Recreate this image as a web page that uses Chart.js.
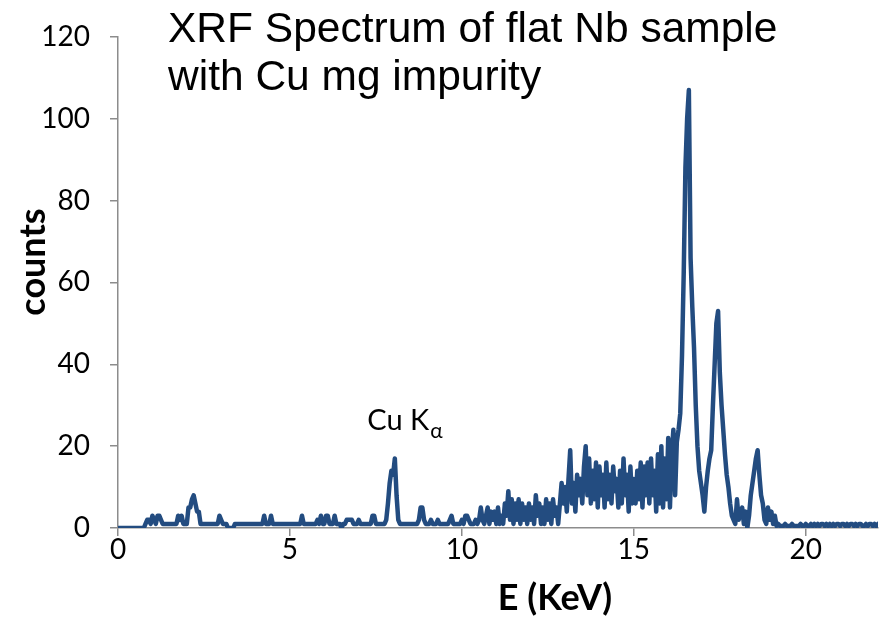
<!DOCTYPE html>
<html>
<head>
<meta charset="utf-8">
<script src="https://cdn.jsdelivr.net/npm/chart.js@4.4.1/dist/chart.umd.min.js"></script>
<style>
  html, body { margin: 0; padding: 0; background: #fff; }
  canvas { display: block; }
</style>
</head>
<body>
<canvas id="chart" width="884" height="617"></canvas>
<script>
// energy of each channel (keV)
const energyKeV = [
  0.00, 0.05, 0.10, 0.15, 0.20, 0.25, 0.30, 0.35, 0.40, 0.45, 0.50, 0.55, 0.60, 0.65, 0.70, 0.75, 0.80, 0.85, 0.90, 0.95,
  1.00, 1.05, 1.10, 1.15, 1.20, 1.25, 1.30, 1.35, 1.40, 1.45, 1.50, 1.55, 1.60, 1.65, 1.70, 1.75, 1.80, 1.85, 1.90, 1.95,
  2.00, 2.05, 2.10, 2.15, 2.20, 2.25, 2.30, 2.35, 2.40, 2.45, 2.50, 2.55, 2.60, 2.65, 2.70, 2.75, 2.80, 2.85, 2.90, 2.95,
  3.00, 3.05, 3.10, 3.15, 3.20, 3.25, 3.30, 3.35, 3.40, 3.45, 3.50, 3.55, 3.60, 3.65, 3.70, 3.75, 3.80, 3.85, 3.90, 3.95,
  4.00, 4.05, 4.10, 4.15, 4.20, 4.25, 4.30, 4.35, 4.40, 4.45, 4.50, 4.55, 4.60, 4.65, 4.70, 4.75, 4.80, 4.85, 4.90, 4.95,
  5.00, 5.05, 5.10, 5.15, 5.20, 5.25, 5.30, 5.35, 5.40, 5.45, 5.50, 5.55, 5.60, 5.65, 5.70, 5.75, 5.80, 5.85, 5.90, 5.95,
  6.00, 6.05, 6.10, 6.15, 6.20, 6.25, 6.30, 6.35, 6.40, 6.45, 6.50, 6.55, 6.60, 6.65, 6.70, 6.75, 6.80, 6.85, 6.90, 6.95,
  7.00, 7.05, 7.10, 7.15, 7.20, 7.25, 7.30, 7.35, 7.40, 7.45, 7.50, 7.55, 7.60, 7.65, 7.70, 7.75, 7.80, 7.85, 7.90, 7.95,
  8.00, 8.05, 8.10, 8.15, 8.20, 8.25, 8.30, 8.35, 8.40, 8.45, 8.50, 8.55, 8.60, 8.65, 8.70, 8.75, 8.80, 8.85, 8.90, 8.95,
  9.00, 9.05, 9.10, 9.15, 9.20, 9.25, 9.30, 9.35, 9.40, 9.45, 9.50, 9.55, 9.60, 9.65, 9.70, 9.75, 9.80, 9.85, 9.90, 9.95,
  10.00, 10.05, 10.10, 10.15, 10.20, 10.25, 10.30, 10.35, 10.40, 10.45, 10.50, 10.55, 10.60, 10.65, 10.70, 10.75, 10.80, 10.85, 10.90, 10.95,
  11.00, 11.05, 11.10, 11.15, 11.20, 11.25, 11.30, 11.35, 11.40, 11.45, 11.50, 11.55, 11.60, 11.65, 11.70, 11.75, 11.80, 11.85, 11.90, 11.95,
  12.00, 12.05, 12.10, 12.15, 12.20, 12.25, 12.30, 12.35, 12.40, 12.45, 12.50, 12.55, 12.60, 12.65, 12.70, 12.75, 12.80, 12.85, 12.90, 12.95,
  13.00, 13.05, 13.10, 13.15, 13.20, 13.25, 13.30, 13.35, 13.40, 13.45, 13.50, 13.55, 13.60, 13.65, 13.70, 13.75, 13.80, 13.85, 13.90, 13.95,
  14.00, 14.05, 14.10, 14.15, 14.20, 14.25, 14.30, 14.35, 14.40, 14.45, 14.50, 14.55, 14.60, 14.65, 14.70, 14.75, 14.80, 14.85, 14.90, 14.95,
  15.00, 15.05, 15.10, 15.15, 15.20, 15.25, 15.30, 15.35, 15.40, 15.45, 15.50, 15.55, 15.60, 15.65, 15.70, 15.75, 15.80, 15.85, 15.90, 15.95,
  16.00, 16.05, 16.10, 16.15, 16.20, 16.25, 16.30, 16.35, 16.40, 16.45, 16.50, 16.55, 16.60, 16.65, 16.70, 16.75, 16.80, 16.85, 16.90, 16.95,
  17.00, 17.05, 17.10, 17.15, 17.20, 17.25, 17.30, 17.35, 17.40, 17.45, 17.50, 17.55, 17.60, 17.65, 17.70, 17.75, 17.80, 17.85, 17.90, 17.95,
  18.00, 18.05, 18.10, 18.15, 18.20, 18.25, 18.30, 18.35, 18.40, 18.45, 18.50, 18.55, 18.60, 18.65, 18.70, 18.75, 18.80, 18.85, 18.90, 18.95,
  19.00, 19.05, 19.10, 19.15, 19.20, 19.25, 19.30, 19.35, 19.40, 19.45, 19.50, 19.55, 19.60, 19.65, 19.70, 19.75, 19.80, 19.85, 19.90, 19.95,
  20.00, 20.05, 20.10, 20.15, 20.20, 20.25, 20.30, 20.35, 20.40, 20.45, 20.50, 20.55, 20.60, 20.65, 20.70, 20.75, 20.80, 20.85, 20.90, 20.95,
  21.00, 21.05, 21.10, 21.15, 21.20, 21.25, 21.30, 21.35, 21.40, 21.45, 21.50, 21.55, 21.60, 21.65, 21.70, 21.75, 21.80, 21.85, 21.90, 21.95,
  22.00, 22.05, 22.10
];

// counts per channel
const counts = [
  0, 0, 0, 0, 0, 0, 0, 0, 0, 0, 0, 0, 0, 0, 0, 0, 1, 2, 2, 1,
  3, 2, 1, 3, 3, 2, 1, 1, 1, 1, 1, 1, 1, 1, 1, 3, 2, 3, 1, 1,
  1, 5, 5, 7, 8, 6, 4, 4, 1, 1, 1, 1, 1, 1, 1, 1, 1, 1, 1, 3,
  2, 1, 1, 1, 0, 0, 0, 0, 1, 1, 1, 1, 1, 1, 1, 1, 1, 1, 1, 1,
  1, 1, 1, 1, 1, 3, 1, 1, 1, 3, 1, 1, 1, 1, 1, 1, 1, 1, 1, 1,
  1, 1, 1, 1, 1, 1, 1, 3, 1, 1, 1, 1, 1, 1, 1, 1, 2, 1, 3, 1,
  1, 3, 3, 1, 1, 1, 3, 1, 1, 1, 0, 1, 1, 2, 2, 2, 2, 1, 1, 1,
  2, 1, 1, 1, 1, 1, 1, 1, 3, 3, 1, 1, 1, 1, 1, 1, 2, 6, 11, 14,
  13, 17, 8, 2, 1, 1, 1, 1, 1, 1, 1, 1, 1, 1, 1, 2, 5, 5, 2, 1,
  1, 1, 2, 1, 1, 1, 2, 1, 1, 1, 1, 1, 1, 2, 3, 1, 1, 1, 1, 1,
  2, 1, 3, 3, 2, 1, 1, 1, 2, 1, 2, 5, 2, 1, 3, 5, 1, 4, 2, 4,
  1, 5, 1, 3, 1, 6, 3, 9, 2, 7, 1, 6, 2, 7, 1, 6, 2, 5, 1, 6,
  2, 5, 1, 8, 3, 6, 1, 5, 1, 7, 2, 6, 1, 7, 3, 5, 1, 6, 11, 6,
  10, 4, 12, 19, 6, 11, 4, 13, 8, 12, 6, 15, 20, 8, 17, 6, 14, 7, 16, 5,
  15, 8, 13, 5, 16, 7, 13, 6, 15, 9, 12, 5, 14, 6, 17, 8, 13, 4, 15, 6,
  12, 6, 14, 7, 16, 5, 15, 8, 16, 6, 17, 8, 14, 4, 18, 6, 20, 5, 17, 7,
  22, 5, 18, 24, 8, 21, 24, 28, 42, 62, 88, 100, 107, 66, 54, 44, 30, 20, 14, 11,
  8, 4, 10, 14, 17, 19, 30, 40, 50, 53, 38, 30, 24, 18, 13, 10, 6, 3, 2, 1,
  7, 2, 4, 5, 1, 4, 0, 3, 8, 11, 14, 17, 19, 13, 8, 6, 2, 1, 5, 2,
  4, 1, 3, 0.5, 1, 0.5, 0.5, 0.5, 1, 0.5, 0.5, 0.5, 1, 0.5, 0.5, 0.5, 0.5, 1, 0.5, 0.5,
  1, 0.5, 0.5, 1, 0.5, 1, 0.5, 1, 0.5, 1, 1, 0.5, 1, 0.5, 1, 0.5, 1, 0.5, 1, 1,
  0.5, 1, 1, 0.5, 1, 0.5, 1, 1, 0.5, 1, 0.5, 1, 1, 0.5, 0.5, 1, 0.5, 1, 1, 0.5,
  1, 0.5, 1
];

const xTicks = [0, 5, 10, 15, 20];
const yTicks = [0, 20, 40, 60, 80, 100, 120];
const titleLines = ["XRF Spectrum of flat Nb sample", "with Cu mg impurity"];

const LINE_BLUE = "#234C80";
const AXIS_GREY = "#8C8C8C";

// titles and labels drawn straight onto the canvas
const textPlugin = {
  id: "texts",
  afterDraw(chart) {
    const ctx = chart.ctx;
    const xs = chart.scales.x;
    const ys = chart.scales.y;
    ctx.save();
    ctx.fillStyle = "#000";

    // chart title inside plot
    ctx.font = "42.5px 'Liberation Sans', Arial, sans-serif";
    ctx.textAlign = "left";
    ctx.textBaseline = "alphabetic";
    ctx.fillText(titleLines[0], 168, 42);
    ctx.fillText(titleLines[1], 168, 90);

    // Cu K alpha annotation
    const ax = xs.getPixelForValue(7.25);
    const ay = ys.getPixelForValue(24);
    ctx.font = "29px Lato, sans-serif";
    ctx.fillText("Cu K", ax, ay);
    const w = ctx.measureText("Cu K").width;
    ctx.font = "21px Lato, sans-serif";
    ctx.fillText("\u03B1", ax + w + 1, ay + 8);

    // axis titles
    ctx.font = "bold 36px Lato, sans-serif";
    ctx.textAlign = "center";
    ctx.textBaseline = "middle";
    ctx.fillText("E (KeV)", 555, 598);

    ctx.translate(33, 262);
    ctx.rotate(-Math.PI / 2);
    ctx.fillText("counts", 0, 0);
    ctx.restore();
  }
};

new Chart(document.getElementById("chart").getContext("2d"), {
  type: "line",
  data: {
    datasets: [{
      data: energyKeV.map((e, i) => ({ x: e, y: counts[i] })),
      borderColor: LINE_BLUE,
      borderWidth: 4.5,
      borderJoinStyle: "round",
      borderCapStyle: "round",
      pointRadius: 0,
      tension: 0,
      fill: false
    }]
  },
  options: {
    responsive: false,
    animation: false,
    layout: { padding: { top: 28, right: 6, left: 0, bottom: 0 } },
    plugins: {
      legend: { display: false },
      tooltip: { enabled: false }
    },
    scales: {
      x: {
        type: "linear",
        min: 0,
        max: 22.1,
        afterBuildTicks: (s) => { s.ticks = xTicks.map(v => ({ value: v })); },
        afterFit: (s) => { s.height = 89; },
        grid: { display: true, drawOnChartArea: false, drawTicks: true, tickLength: 8, color: AXIS_GREY, lineWidth: 1.5 },
        border: { display: true, color: AXIS_GREY, width: 1.5 },
        ticks: {
          autoSkip: false,
          maxRotation: 0,
          padding: -3,
          color: "#000",
          font: { family: "Lato", size: 28 }
        }
      },
      y: {
        min: 0,
        max: 120,
        afterBuildTicks: (s) => { s.ticks = yTicks.map(v => ({ value: v })); },
        afterFit: (s) => { s.width = 118; },
        grid: { display: true, drawOnChartArea: false, drawTicks: true, tickLength: 8, color: AXIS_GREY, lineWidth: 1.5 },
        border: { display: true, color: AXIS_GREY, width: 1.5 },
        ticks: {
          padding: 20,
          color: "#000",
          font: { family: "Lato", size: 28 }
        }
      }
    }
  },
  plugins: [textPlugin]
});
</script>
</body>
</html>
